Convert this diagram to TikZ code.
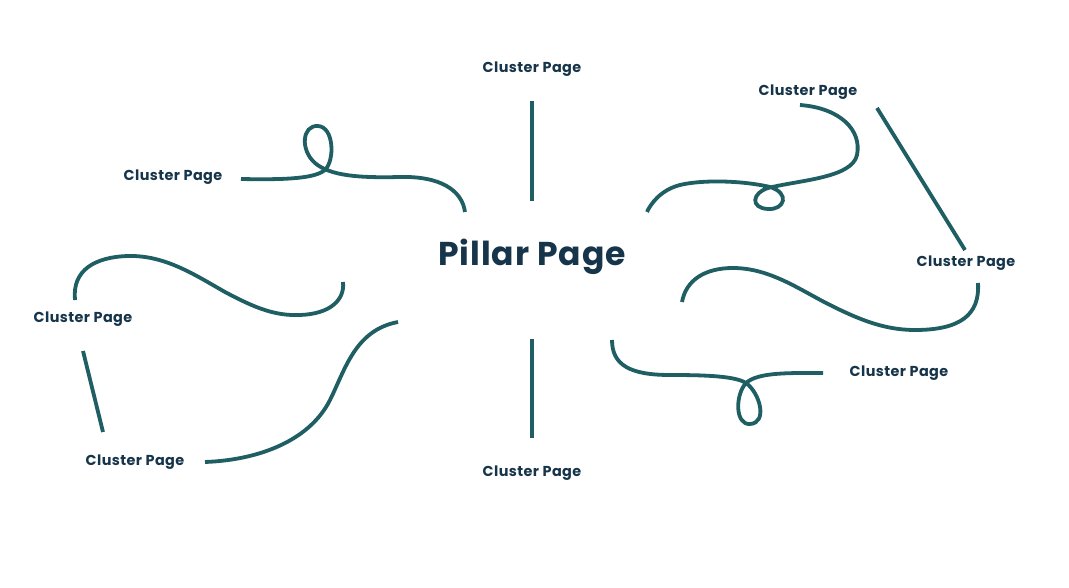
\documentclass[tikz,border=0pt]{standalone}
\usepackage{fontspec}
\setmainfont{Poppins}
\newfontfamily\wide[LetterSpace=3]{Poppins}
\definecolor{teal}{HTML}{1F5E63}
\definecolor{navy}{HTML}{17354A}
\tikzset{
  cl/.style={font=\wide\bfseries\fontsize{14.4}{16}\selectfont, text=navy, inner sep=0pt},
  pill/.style={font=\wide\bfseries\fontsize{33}{36}\selectfont, text=navy, inner sep=0pt},
  link/.style={draw=teal, line width=3.8pt, line cap=butt}
}
\begin{document}
\begin{tikzpicture}[x=1pt,y=-1pt]
\useasboundingbox[fill=white] (0,0) rectangle (1069,588);
\node[pill] (P) at (532,257) {Pillar Page};
\node[cl] (c1) at (532,69) {Cluster Page};
\node[cl] (c2) at (808,92) {Cluster Page};
\node[cl] (c3) at (173,177) {Cluster Page};
\node[cl] (c4) at (966,263) {Cluster Page};
\node[cl] (c5) at (83,319) {Cluster Page};
\node[cl] (c6) at (899,373) {Cluster Page};
\node[cl] (c7) at (135,462) {Cluster Page};
\node[cl] (c8) at (532,473) {Cluster Page};
% straight links
\coordinate (a1) at (532,101); \coordinate (b1) at (532,201);
\coordinate (a2) at (532,339); \coordinate (b2) at (532,438);
\coordinate (a3) at (877,108); \coordinate (b3) at (965,250);
\coordinate (a4) at (83,351);  \coordinate (b4) at (103,432);
\draw[link] (a1) -- (b1);
\draw[link] (a2) -- (b2);
\draw[link] (a3) -- (b3);
\draw[link] (a4) -- (b4);
% upper left loop
\coordinate (s5) at (241,179); \coordinate (e5) at (465,212);
\draw[link] (s5) .. controls (290,180) and (315,178) .. (325,170)
  .. controls (335,160) and (334,127) .. (318,126)
  .. controls (302,125) and (300,150) .. (315,163)
  .. controls (330,176) and (360,178) .. (400,177)
  .. controls (440,176) and (462,190) .. (e5);
% upper right loop
\coordinate (s6) at (800,105); \coordinate (e6) at (647,212);
\draw[link] (s6) .. controls (840,108) and (862,130) .. (857,155)
  .. controls (852,178) and (800,180) .. (768,188)
  .. controls (752,193) and (750,208) .. (768,209)
  .. controls (785,210) and (790,193) .. (770,187)
  .. controls (740,180) and (700,180) .. (680,185)
  .. controls (660,190) and (650,205) .. (e6);
% right wave
\coordinate (s7) at (682,302); \coordinate (e7) at (978,283);
\draw[link] (s7) .. controls (686,280) and (705,268) .. (733,268)
  .. controls (770,268) and (800,290) .. (830,305)
  .. controls (860,320) and (885,330) .. (915,330)
  .. controls (960,330) and (980,315) .. (e7);
% right lower loop
\coordinate (s8) at (612,340); \coordinate (e8) at (823,373);
\draw[link] (s8) .. controls (612,365) and (630,375) .. (670,375)
  .. controls (705,375) and (735,376) .. (746,383)
  .. controls (760,393) and (768,423) .. (750,424)
  .. controls (735,425) and (735,395) .. (746,383)
  .. controls (758,372) and (790,373) .. (e8);
% left wave
\coordinate (s9) at (75,300); \coordinate (e9) at (343,282);
\draw[link] (s9) .. controls (72,270) and (95,257) .. (128,256)
  .. controls (165,255) and (195,275) .. (225,292)
  .. controls (255,308) and (275,316) .. (300,315)
  .. controls (330,314) and (345,300) .. (e9);
% left lower curve
\coordinate (s10) at (205,462); \coordinate (e10) at (398,322);
\draw[link] (s10) .. controls (260,460) and (310,440) .. (330,400)
  .. controls (345,370) and (355,330) .. (e10);
\end{tikzpicture}
\end{document}
